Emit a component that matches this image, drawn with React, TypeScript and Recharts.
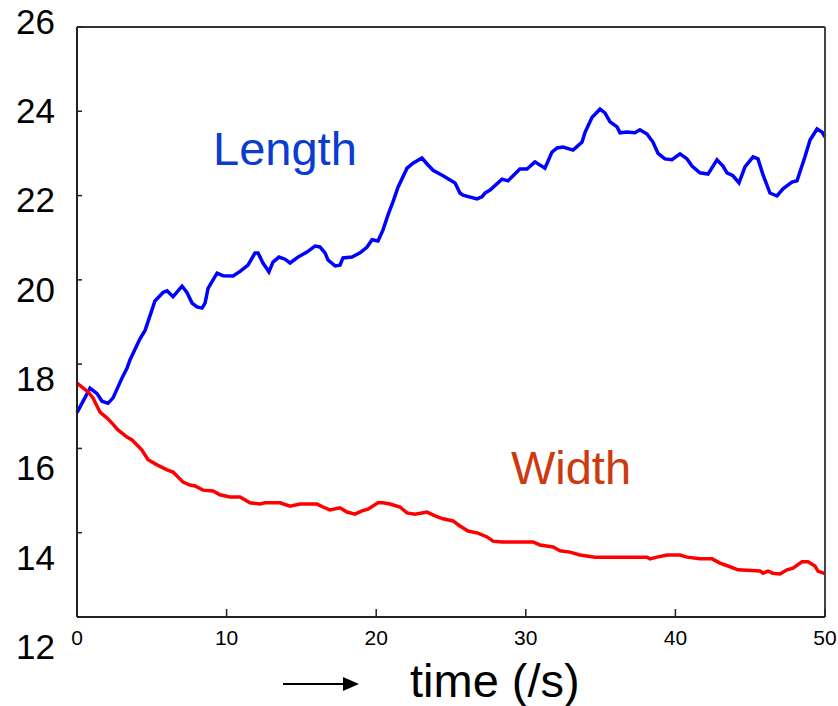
import React from 'react';
import { LineChart, Line, XAxis, YAxis, ReferenceLine, ReferenceDot } from 'recharts';

const lengthTime = [
  0, 0.87, 1.34, 1.67, 2.07, 2.41, 2.74, 3.01, 3.34, 3.54, 4.21, 4.55, 5.21, 5.75, 6.02, 6.42, 7.02, 7.35,
  7.69, 8.02, 8.36, 8.56, 8.76, 9.36, 9.76, 10.43, 10.9, 11.43, 11.9, 12.1, 12.43, 12.83, 13.1, 13.5, 13.9,
  14.24, 14.77, 15.37, 15.91, 16.24, 16.58, 16.78, 17.25, 17.58, 17.78, 18.38, 18.92, 19.39, 19.72, 20.12,
  20.45, 20.79, 21.12, 21.46, 22.06, 22.46, 23.06, 23.4, 23.8, 24.47, 25.27, 25.6, 25.8, 26.74, 27.07, 27.27,
  27.61, 28.41, 28.81, 29.61, 30.08, 30.61, 31.28, 31.75, 32.09, 32.49, 33.16, 33.76, 33.96, 34.43, 34.96,
  35.29, 35.63, 36.1, 36.3, 36.76, 37.3, 37.63, 38.1, 38.5, 38.84, 39.3, 39.77, 40.31, 40.78, 41.11, 41.64,
  42.18, 42.78, 43.18, 43.45, 43.85, 44.25, 44.65, 45.19, 45.52, 45.86, 46.32, 46.79, 47.19, 47.79, 48.13,
  48.66, 49.0, 49.47, 49.8, 50,
];
const lengthValue = [
  16.85, 17.43, 17.3, 17.12, 17.07, 17.2, 17.46, 17.67, 17.9, 18.1, 18.6, 18.8, 19.5, 19.7, 19.74, 19.6, 19.85,
  19.7, 19.45, 19.36, 19.33, 19.45, 19.8, 20.16, 20.1, 20.09, 20.2, 20.35, 20.64, 20.64, 20.4, 20.19, 20.42,
  20.54, 20.49, 20.4, 20.54, 20.66, 20.8, 20.78, 20.64, 20.47, 20.33, 20.35, 20.52, 20.54, 20.64, 20.78, 20.95,
  20.92, 21.18, 21.54, 21.85, 22.2, 22.65, 22.77, 22.89, 22.75, 22.6, 22.47, 22.3, 22.06, 22.01, 21.92, 21.97,
  22.06, 22.13, 22.39, 22.35, 22.63, 22.63, 22.8, 22.65, 23.03, 23.13, 23.15, 23.08, 23.27, 23.5, 23.86, 24.05,
  23.96, 23.75, 23.63, 23.49, 23.51, 23.49, 23.56, 23.46, 23.27, 23.0, 22.87, 22.85, 22.99, 22.87, 22.7, 22.54,
  22.51, 22.85, 22.7, 22.54, 22.47, 22.3, 22.68, 22.92, 22.87, 22.49, 22.06, 21.99, 22.16, 22.32, 22.35, 22.92,
  23.32, 23.58, 23.51, 23.39,
];

const widthTime = [
  0, 0.74, 1.07, 1.54, 2.01, 2.34, 2.74, 3.34, 3.68, 4.34, 4.75, 5.35, 6.02, 6.42, 7.09, 7.55, 7.89, 8.42, 9.09,
  9.56, 10.23, 10.9, 11.56, 12.23, 12.57, 13.57, 14.24, 14.91, 16.04, 16.44, 16.91, 17.58, 18.05, 18.58, 19.05,
  19.45, 20.12, 20.45, 20.92, 21.59, 22.06, 22.59, 23.06, 23.4, 23.93, 24.47, 25.13, 25.6, 26.14, 26.8, 27.41,
  27.81, 28.41, 30.48, 30.95, 31.82, 32.29, 32.95, 33.62, 34.63, 38.1, 38.3, 38.77, 39.44, 40.31, 40.78, 41.64,
  42.45, 42.98, 43.52, 44.18, 45.66, 45.86, 46.19, 46.52, 46.99, 47.46, 47.86, 48.46, 48.86, 49.33, 49.53, 50,
];
const widthValue = [
  17.55, 17.34, 17.2, 16.86, 16.72, 16.6, 16.44, 16.27, 16.2, 15.96, 15.73, 15.61, 15.49, 15.44, 15.2, 15.13,
  15.11, 15.01, 14.99, 14.9, 14.85, 14.85, 14.71, 14.68, 14.71, 14.71, 14.63, 14.68, 14.68, 14.61, 14.54, 14.59,
  14.49, 14.44, 14.52, 14.56, 14.71, 14.71, 14.68, 14.61, 14.47, 14.44, 14.47, 14.49, 14.4, 14.33, 14.28, 14.16,
  14.04, 13.99, 13.9, 13.8, 13.78, 13.78, 13.71, 13.66, 13.57, 13.54, 13.47, 13.42, 13.42, 13.38, 13.42, 13.47,
  13.47, 13.42, 13.38, 13.38, 13.28, 13.21, 13.12, 13.09, 13.04, 13.09, 13.04, 13.02, 13.12, 13.16, 13.31, 13.31,
  13.21, 13.09, 13.03,
];

const xTicks = [0, 10, 20, 30, 40, 50];
const yTicks = [12, 14, 16, 18, 20, 22, 24, 26];

const lengthData = lengthTime.map((t, i) => ({ t, v: lengthValue[i] }));
const widthData = widthTime.map((t, i) => ({ t, v: widthValue[i] }));

const FONT = '"Liberation Sans", Arial, Helvetica, sans-serif';
const AXIS = '#222';

// left ticks point inward, labels drift downward like the original slide
const LeftTick = (props: any) => {
  const { x, y, payload } = props;
  const shift = -6 + (26 - payload.value) * 2.55;
  return (
    <g>
      <line x1={x} y1={y} x2={x + 5} y2={y} stroke={AXIS} strokeWidth={1.5} />
      <text x={x - 22} y={y + shift + 12.5} textAnchor="end" fontSize={35} fontFamily={FONT} fill="#000">
        {payload.value}
      </text>
    </g>
  );
};

const RightTick = (props: any) => {
  const { x, y } = props;
  return <line x1={x} y1={y} x2={x - 5} y2={y} stroke={AXIS} strokeWidth={1.5} />;
};

const BottomTick = (props: any) => {
  const { x, y, payload } = props;
  return (
    <g>
      <line x1={x} y1={y} x2={x} y2={y - 8} stroke={AXIS} strokeWidth={1.5} />
      <text x={x} y={y + 28} textAnchor="middle" fontSize={21} fontFamily={FONT} fill="#000">
        {payload.value}
      </text>
    </g>
  );
};

const TimeLabel = (props: any) => {
  const { viewBox } = props;
  const bx = viewBox.x;
  const by = viewBox.y;
  return (
    <g>
      <line x1={bx + 206} y1={by + 67} x2={bx + 268} y2={by + 67} stroke="#000" strokeWidth={2} />
      <polygon points={`${bx + 266},${by + 60} ${bx + 282},${by + 67} ${bx + 266},${by + 74}`} fill="#000" />
      <text x={bx + 333} y={by + 80} fontSize={47} fontFamily={FONT} fill="#000">
        time (/s)
      </text>
    </g>
  );
};

export default function App() {
  return (
    <div style={{ position: 'absolute', left: 0, top: 0, background: '#fff' }}>
      <LineChart width={838} height={706} margin={{ top: 27, right: 0, bottom: 0, left: 0 }}>
        <XAxis
          type="number"
          dataKey="t"
          domain={[0, 50]}
          ticks={xTicks}
          height={89}
          stroke={AXIS}
          strokeWidth={2}
          tickLine={false}
          tickSize={0}
          tickMargin={0}
          tick={<BottomTick />}
          allowDuplicatedCategory={false}
          label={{ position: 'insideBottom', content: (p: any) => <TimeLabel {...p} /> }}
        />
        <YAxis
          type="number"
          domain={[12, 26]}
          ticks={yTicks}
          width={77}
          stroke={AXIS}
          strokeWidth={2}
          tickLine={false}
          tickSize={0}
          tickMargin={0}
          tick={<LeftTick />}
        />
        <YAxis
          yAxisId="right"
          orientation="right"
          type="number"
          domain={[12, 26]}
          ticks={yTicks}
          width={13}
          stroke="#444"
          strokeWidth={2}
          tickLine={false}
          tickSize={0}
          tickMargin={0}
          tick={<RightTick />}
        />
        <ReferenceLine y={26} stroke="#333" strokeWidth={2} />
        <Line
          data={lengthData}
          dataKey="v"
          type="linear"
          stroke="#0000ff"
          strokeWidth={3.5}
          dot={false}
          isAnimationActive={false}
        />
        <Line
          data={widthData}
          dataKey="v"
          type="linear"
          stroke="#ff0000"
          strokeWidth={3.5}
          dot={false}
          isAnimationActive={false}
        />
        <ReferenceDot
          x={13.9}
          y={23.12}
          r={0}
          fill="none"
          stroke="none"
          label={{ value: 'Length', position: 'center', fontSize: 47, fontFamily: FONT, fill: '#0a3cd2' }}
        />
        <ReferenceDot
          x={33.02}
          y={15.56}
          r={0}
          fill="none"
          stroke="none"
          label={{ value: 'Width', position: 'center', fontSize: 47, fontFamily: FONT, fill: '#cc3a10' }}
        />
      </LineChart>
    </div>
  );
}
